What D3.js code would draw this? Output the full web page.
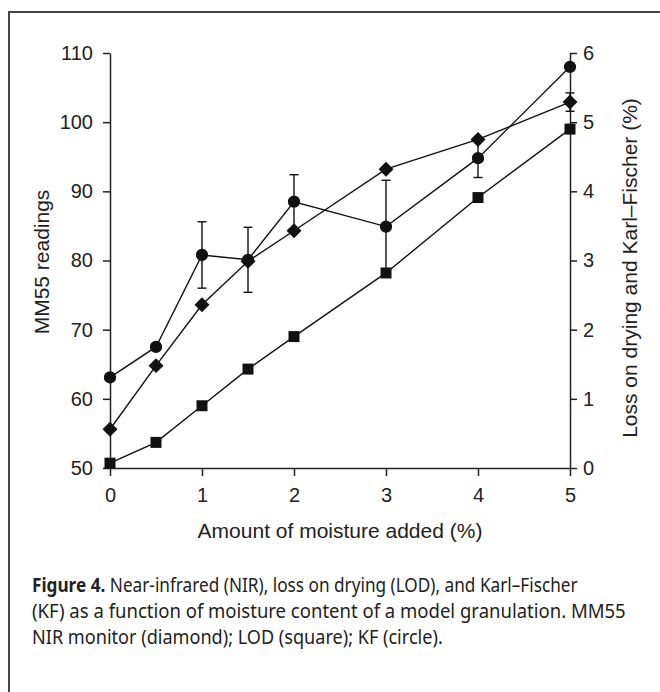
<!DOCTYPE html>
<html>
<head>
  <meta charset="utf-8">
  <title>Figure 4</title>
  <script src="https://d3js.org/d3.v7.min.js"></script>
  <style>
    body { margin: 0; background: #fff; }
    svg { display: block; }
    .axis text { font-family: "Liberation Sans", Arial, sans-serif; font-size: 20px; fill: #222; }
    .axis path, .axis line { stroke: #222; stroke-width: 1.5; }
    .title { font-family: "Liberation Sans", Arial, sans-serif; font-size: 21px; fill: #222; }
    .caption { font-family: "Noto Sans", "Open Sans", sans-serif; font-size: 20px; fill: #222; }
  </style>
</head>
<body>
  <div id="chart"></div>

  <script>
    // values
    var moisture = [0, 0.5, 1, 1.5, 2, 3, 4, 5];
    // MM55 NIR readings (left axis)
    var nir = [55.6, 64.8, 73.6, 79.9, 84.3, 93.2, 97.5, 102.9];
    var nirErr = [0, 0, 0, 0, 0, 0, 0, 1.33];
    // loss on drying, % (right axis)
    var lod = [0.07, 0.37, 0.9, 1.43, 1.9, 2.82, 3.91, 4.9];
    // Karl-Fischer, % (right axis)
    var kf = [1.31, 1.75, 3.08, 3.01, 3.85, 3.49, 4.48, 5.8];
    var kfErr = [0, 0, 0.48, 0.47, 0.39, 0.67, 0.28, 0];

    var xTicks = [0, 1, 2, 3, 4, 5];
    var leftTicks = [50, 60, 70, 80, 90, 100, 110];
    var rightTicks = [0, 1, 2, 3, 4, 5, 6];

    var captionLines = [
      { bold: "Figure 4.", text: " Near-infrared (NIR), loss on drying (LOD), and Karl\u2013Fischer", w: 546 },
      { bold: "", text: "(KF) as a function of moisture content of a model granulation. MM55", w: 594 },
      { bold: "", text: "NIR monitor (diamond); LOD (square); KF (circle).", w: 411 }
    ];

    var W = 660, H = 692;
    var svg = d3.select("#chart").append("svg")
      .attr("width", W).attr("height", H);

    svg.append("rect").attr("width", W).attr("height", H).attr("fill", "#fff");

    // frame (runs off right and bottom)
    svg.append("path")
      .attr("d", "M9,692V12H660")
      .attr("fill", "none").attr("stroke", "#444").attr("stroke-width", 2);

    var x = d3.scaleLinear().domain([0, 5]).range([110, 570]);
    var yL = d3.scaleLinear().domain([50, 110]).range([468, 53]);
    var yR = d3.scaleLinear().domain([0, 6]).range([468, 53]);
    var fmt = d3.format("d");

    svg.append("g").attr("class", "axis")
      .attr("transform", "translate(0,468)")
      .call(d3.axisBottom(x).tickValues(xTicks).tickFormat(fmt).tickSize(8).tickSizeOuter(0).tickPadding(12));

    svg.append("g").attr("class", "axis")
      .attr("transform", "translate(110,0)")
      .call(d3.axisLeft(yL).tickValues(leftTicks).tickFormat(fmt).tickSize(7).tickSizeOuter(0).tickPadding(10));

    svg.append("g").attr("class", "axis")
      .attr("transform", "translate(570,0)")
      .call(d3.axisRight(yR).tickValues(rightTicks).tickFormat(fmt).tickSize(7).tickSizeOuter(0).tickPadding(6));

    // axis titles
    svg.append("text").attr("class", "title")
      .attr("x", 340).attr("y", 538).attr("text-anchor", "middle")
      .text("Amount of moisture added (%)");
    svg.append("text").attr("class", "title")
      .attr("transform", "translate(49,262) rotate(-90)").attr("text-anchor", "middle")
      .text("MM55 readings");
    svg.append("text").attr("class", "title")
      .attr("transform", "translate(637,268) rotate(-90)").attr("text-anchor", "middle")
      .text("Loss on drying and Karl\u2013Fischer (%)");

    var series = [
      { vals: nir, err: nirErr, y: yL, shape: "diamond" },
      { vals: lod, err: null, y: yR, shape: "square" },
      { vals: kf, err: kfErr, y: yR, shape: "circle" }
    ];

    var plot = svg.append("g");
    var line = function(s) {
      return d3.line().x(function(d, i) { return x(moisture[i]); })
        .y(function(d) { return s.y(d); })(s.vals);
    };

    // lines
    series.forEach(function(s) {
      plot.append("path").attr("d", line(s))
        .attr("fill", "none").attr("stroke", "#111").attr("stroke-width", 1.4);
    });

    // error bars
    series.forEach(function(s) {
      if (!s.err) return;
      s.vals.forEach(function(v, i) {
        var e = s.err[i];
        if (!e) return;
        var cx = x(moisture[i]), y1 = s.y(v + e), y2 = s.y(v - e);
        var g = plot.append("g").attr("stroke", "#111").attr("stroke-width", 1.4);
        g.append("line").attr("x1", cx).attr("x2", cx).attr("y1", y1).attr("y2", y2);
        g.append("line").attr("x1", cx - 4.5).attr("x2", cx + 4.5).attr("y1", y1).attr("y2", y1);
        g.append("line").attr("x1", cx - 4.5).attr("x2", cx + 4.5).attr("y1", y2).attr("y2", y2);
      });
    });

    // markers
    var sym = {
      diamond: d3.symbol().type(d3.symbolSquare).size(112),
      square: d3.symbol().type(d3.symbolSquare).size(121),
      circle: d3.symbol().type(d3.symbolCircle).size(Math.PI * 38)
    };
    series.forEach(function(s) {
      plot.selectAll(null).data(s.vals).enter().append("path")
        .attr("d", sym[s.shape])
        .attr("transform", function(d, i) {
          return "translate(" + x(moisture[i]) + "," + s.y(d) + ")" + (s.shape === "diamond" ? " rotate(45)" : "");
        })
        .attr("fill", "#111");
    });

    // caption, squeezed to the narrow face of the original
    captionLines.forEach(function(c, i) {
      var t = svg.append("text").attr("class", "caption").attr("x", 0).attr("y", 0);
      if (c.bold) t.append("tspan").attr("font-weight", "bold").text(c.bold);
      t.append("tspan").text(c.text);
      var len = t.node().getComputedTextLength();
      t.attr("transform", "translate(32," + (592 + i * 26) + ") scale(" + (c.w / len) + ",1)");
    });
  </script>
</body>
</html>
